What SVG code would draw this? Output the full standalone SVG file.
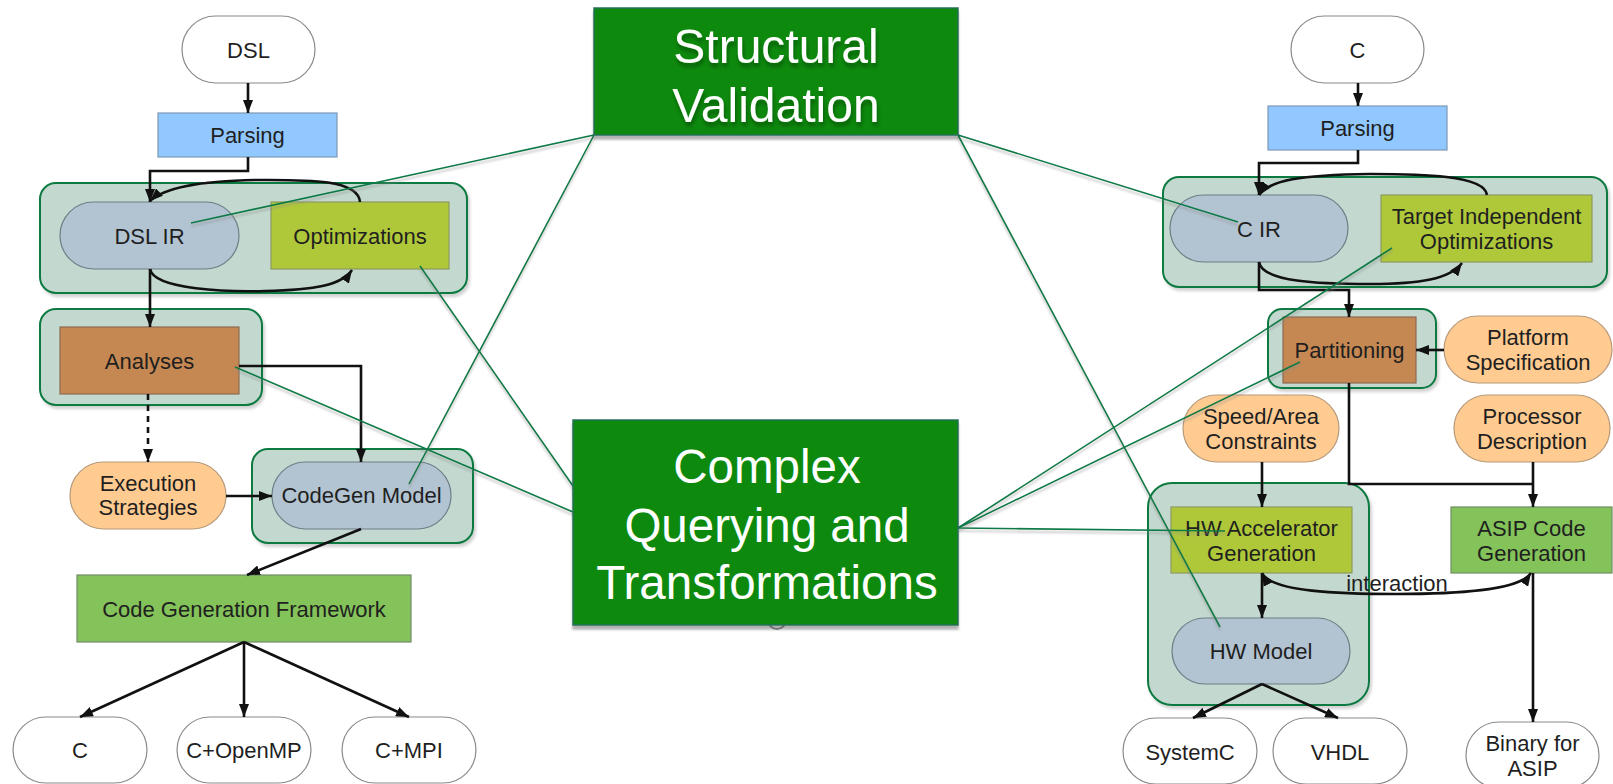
<svg xmlns="http://www.w3.org/2000/svg" width="1613" height="784" viewBox="0 0 1613 784">
  <defs>
    <style>
      .grp { fill:#c3d9cf; stroke:#0f7a42; stroke-width:2; filter:url(#boxShadow); }
      .term { fill:#ffffff; stroke:#8a8a8a; stroke-width:1.2; }
      .ir { fill:#b2c3d1; stroke:#6f7d86; stroke-width:1.2; }
      .parse { fill:#91c8ff; stroke:#7d98b5; stroke-width:1.2; }
      .opt { fill:#afc83a; stroke:#8d9960; stroke-width:1.2; }
      .ana { fill:#c68852; stroke:#8c6b52; stroke-width:1.2; }
      .inp { fill:#ffcb91; stroke:#b69a7a; stroke-width:1.2; }
      .gen { fill:#84c25a; stroke:#6e8c66; stroke-width:1.2; }
      .big { fill:#078a07; stroke:#27705a; stroke-width:1.5; filter:url(#bigShadow); }
      text { font-family:"Liberation Sans", Arial, sans-serif; font-size:22px; fill:#1f1f1f; text-anchor:middle; }
      .bigt { font-size:47.5px; fill:#ffffff; }
      .sv { font-size:48px; filter:url(#textShadow); }
      .flow { fill:none; stroke:#111111; stroke-width:2.6; marker-end:url(#arrow); }
      .dash { stroke-dasharray:6 5; }
      .link { fill:none; stroke:#0b7a46; stroke-width:1.6; }
    </style>
    <marker id="arrow" viewBox="0 0 13 10" refX="13" refY="5" markerWidth="13" markerHeight="10" markerUnits="userSpaceOnUse" orient="auto-start-reverse">
      <path d="M0,0 L13,5 L0,10 z" fill="#111111"/>
    </marker>
    <filter id="boxShadow" x="-10%" y="-10%" width="120%" height="130%">
      <feDropShadow dx="2" dy="3" stdDeviation="1.5" flood-color="#000000" flood-opacity="0.18"/>
    </filter>
    <filter id="bigShadow" x="-10%" y="-10%" width="120%" height="130%">
      <feDropShadow dx="0" dy="4" stdDeviation="1.2" flood-color="#000000" flood-opacity="0.3"/>
    </filter>
    <filter id="linkShadow" x="-10%" y="-10%" width="120%" height="130%">
      <feDropShadow dx="0" dy="3" stdDeviation="0.8" flood-color="#888888" flood-opacity="0.5"/>
    </filter>
    <filter id="textShadow" x="-10%" y="-10%" width="120%" height="140%">
      <feDropShadow dx="1" dy="4" stdDeviation="2" flood-color="#000000" flood-opacity="0.35"/>
    </filter>
  </defs>

  <rect width="1613" height="784" fill="#ffffff"/>

  <!-- containers -->
  <g id="containers">
    <rect id="grp-dsl-ir" class="grp" x="40" y="183" width="427" height="110" rx="16"/>
    <rect id="grp-analyses" class="grp" x="40" y="309" width="222" height="96" rx="16"/>
    <rect id="grp-codegen" class="grp" x="252" y="449" width="221" height="94" rx="16"/>
    <rect id="grp-c-ir" class="grp" x="1163" y="177" width="444" height="110" rx="16"/>
    <rect id="grp-partitioning" class="grp" x="1268" y="309" width="168" height="79" rx="14"/>
    <rect id="grp-hw" class="grp" x="1148" y="483" width="221" height="222" rx="24"/>
  </g>

  <!-- left flow: DSL -->
  <g id="dsl"><rect class="term" x="182" y="16" width="133" height="67" rx="33.5"/><text x="248.5" y="57.5">DSL</text></g>
  <g id="parsing-dsl"><rect class="parse" x="158" y="113" width="179" height="44"/><text x="247.5" y="143">Parsing</text></g>
  <g id="dsl-ir"><rect class="ir" x="60" y="202" width="179" height="67" rx="33.5"/><text x="149.5" y="243.5">DSL IR</text></g>
  <g id="optimizations"><rect class="opt" x="271" y="202" width="178" height="67"/><text x="360" y="243.5">Optimizations</text></g>
  <g id="analyses"><rect class="ana" x="60" y="327" width="179" height="67"/><text x="149.5" y="368.5">Analyses</text></g>
  <g id="execution-strategies"><rect class="inp" x="70" y="462" width="156" height="67" rx="33.5"/><text x="148" y="490.5">Execution</text><text x="148" y="515">Strategies</text></g>
  <g id="codegen-model"><rect class="ir" x="272" y="462" width="179" height="67" rx="33.5"/><text x="361.5" y="503">CodeGen Model</text></g>
  <g id="codegen-framework"><rect class="gen" x="77" y="575" width="334" height="67"/><text x="244" y="616.5">Code Generation Framework</text></g>
  <g id="out-c"><rect class="term" x="13" y="717" width="134" height="66" rx="33"/><text x="80" y="758">C</text></g>
  <g id="out-openmp"><rect class="term" x="177" y="717" width="134" height="66" rx="33"/><text x="244" y="758">C+OpenMP</text></g>
  <g id="out-mpi"><rect class="term" x="342" y="717" width="134" height="66" rx="33"/><text x="409" y="758">C+MPI</text></g>

  <!-- right flow: C -->
  <g id="c-src"><rect class="term" x="1291" y="16" width="133" height="67" rx="33.5"/><text x="1357.5" y="57.5">C</text></g>
  <g id="parsing-c"><rect class="parse" x="1268" y="106" width="179" height="44"/><text x="1357.5" y="136">Parsing</text></g>
  <g id="c-ir"><rect class="ir" x="1170" y="195" width="178" height="67" rx="33.5"/><text x="1259" y="236.5">C IR</text></g>
  <g id="target-opt"><rect class="opt" x="1381" y="195" width="211" height="67"/><text x="1486.5" y="224">Target Independent</text><text x="1486.5" y="248.5">Optimizations</text></g>
  <g id="partitioning"><rect class="ana" x="1283" y="317" width="133" height="66"/><text x="1349.5" y="358">Partitioning</text></g>
  <g id="platform-spec"><rect class="inp" x="1444" y="316" width="168" height="67" rx="33.5"/><text x="1528" y="345">Platform</text><text x="1528" y="369.5">Specification</text></g>
  <g id="speed-area"><rect class="inp" x="1183" y="395" width="156" height="67" rx="33.5"/><text x="1261" y="424">Speed/Area</text><text x="1261" y="448.5">Constraints</text></g>
  <g id="processor-desc"><rect class="inp" x="1454" y="395" width="156" height="67" rx="33.5"/><text x="1532" y="424">Processor</text><text x="1532" y="448.5">Description</text></g>
  <g id="hw-accel"><rect class="opt" x="1171" y="507" width="181" height="66"/><text x="1261.5" y="536">HW Accelerator</text><text x="1261.5" y="560.5">Generation</text></g>
  <g id="asip-codegen"><rect class="gen" x="1451" y="507" width="161" height="66"/><text x="1531.5" y="536">ASIP Code</text><text x="1531.5" y="560.5">Generation</text></g>
  <g id="hw-model"><rect class="ir" x="1172" y="618" width="178" height="66" rx="33"/><text x="1261" y="659">HW Model</text></g>
  <g id="out-systemc"><rect class="term" x="1123" y="718" width="134" height="66" rx="33"/><text x="1190" y="760">SystemC</text></g>
  <g id="out-vhdl"><rect class="term" x="1273" y="718" width="134" height="66" rx="33"/><text x="1340" y="760">VHDL</text></g>
  <g id="out-binary"><rect class="term" x="1466" y="722" width="133" height="66" rx="33"/><text x="1532.5" y="751">Binary for</text><text x="1532.5" y="775.5">ASIP</text></g>

  <!-- tool-flow connectors -->
  <g id="connectors">
    <path class="flow" d="M248,83 V113"/>
    <path class="flow" d="M248,157 V171 H150 V202"/>
    <path class="flow" d="M360,202 C358,178 300,180 255,180 C200,181 165,187 150,201"/>
    <path class="flow" d="M150,269 C154,290 230,292 265,291 C315,290 342,285 352,270"/>
    <path class="flow" d="M150,269 V327"/>
    <path class="flow dash" d="M148,394 V462"/>
    <path class="flow" d="M239,366 H361 V462"/>
    <path class="flow" d="M226,496 H272"/>
    <path class="flow" d="M361,529 L247,575"/>
    <path class="flow" d="M244,642 L80,717"/>
    <path class="flow" d="M244,642 V717"/>
    <path class="flow" d="M244,642 L409,717"/>

    <path class="flow" d="M1358,83 V106"/>
    <path class="flow" d="M1358,150 V163 H1259 V195"/>
    <path class="flow" d="M1487,195 C1485,175 1420,174 1370,174 C1300,175 1270,180 1259,195"/>
    <path class="flow" d="M1259,262 C1262,282 1320,284 1370,284 C1420,284 1450,279 1462,263"/>
    <path class="flow" d="M1259,262 V290 H1349 V317"/>
    <path class="flow" d="M1444,350 H1416"/>
    <path class="flow" style="marker-end:none" d="M1349,383 V484 H1533"/>
    <path class="flow" d="M1533,462 V507"/>
    <path class="flow" d="M1262,462 V507"/>
    <path class="flow" d="M1262,573 V618"/>
    <path class="flow" style="marker-start:url(#arrow)" d="M1262,573 C1272,592 1340,594 1397,594 C1460,594 1520,590 1531,573"/>
    <path class="flow" d="M1262,684 L1193,718"/>
    <path class="flow" d="M1262,684 L1338,718"/>
    <path class="flow" d="M1533,573 V722"/>
    <text x="1397" y="591">interaction</text>
  </g>

  <!-- links from the two concern boxes into the flow -->
  <g id="links" filter="url(#linkShadow)">
    <path class="link" d="M594,135 L191,223"/>
    <path class="link" d="M594,135 L409,484"/>
    <path class="link" d="M958,135 L1238,222"/>
    <path class="link" d="M958,135 L1220,627"/>
    <path class="link" d="M420,266 L573,486"/>
    <path class="link" d="M235,367 L573,512"/>
    <path class="link" d="M958,528 L1392,248"/>
    <path class="link" d="M958,528 L1300,362"/>
    <path class="link" d="M958,528 L1225,531"/>
  </g>

  <!-- concern boxes -->
  <circle cx="777" cy="620" r="9" fill="none" stroke="#9a9a9a" stroke-width="2"/>
  <g id="structural-validation">
    <rect class="big" x="594" y="8" width="364" height="127"/>
    <text class="bigt sv" x="776" y="63">Structural</text>
    <text class="bigt sv" x="776" y="122">Validation</text>
  </g>
  <g id="complex-querying">
    <rect class="big" x="573" y="420" width="385" height="205"/>
    <text class="bigt" x="767" y="483">Complex</text>
    <text class="bigt" x="767" y="542">Querying and</text>
    <text class="bigt" x="767" y="599">Transformations</text>
  </g>
</svg>
